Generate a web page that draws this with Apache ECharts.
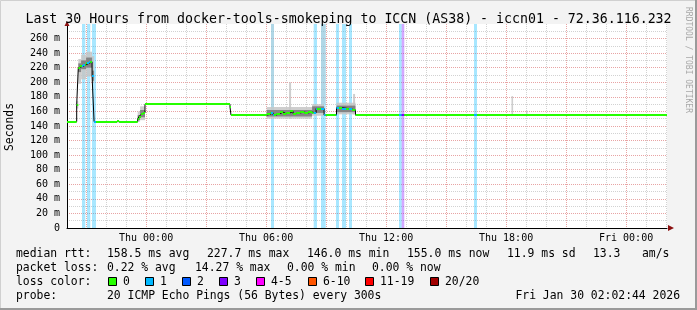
<!DOCTYPE html>
<html><head><meta charset="utf-8">
<script src="https://cdn.jsdelivr.net/npm/echarts@6/dist/echarts.min.js"></script>
<style>html,body{margin:0;padding:0;background:#f3f3f3}#c{width:697px;height:310px}</style>
</head><body><div id="c"></div>
<script>
// time in hours relative to Thu 00:00 (window: Wed 20:02:44 .. Fri 02:02:44)
const START = -3.9544, END = 26.0456;

const xMinorTicks = [-2,-1,1,2,4,5,7,8,10,11,13,14,16,17,19,20,22,23,25,26];
const xMajorTicks = [-3,0,3,6,9,12,15,18,21,24];
const xLabelTicks = [0,6,12,18,24];
const xLabelText  = ['Thu 00:00','Thu 06:00','Thu 12:00','Thu 18:00','Fri 00:00'];
const yMinorTicks = [10,30,50,70,90,110,130,150,170,190,210,230,250,270];
const yMajorTicks = [20,40,60,80,100,120,140,160,180,200,220,240,260];
const yLabelTicks = [0,20,40,60,80,100,120,140,160,180,200,220,240,260];

// median rtt (ms), step values holding until next time
const medT = [-3.955,-3.47,-3.39,-3.30,-3.15,-3.00,-2.85,-2.70,-2.60,-1.45,-1.35,-0.42,-0.35,-0.25,-0.15,-0.055,4.195,4.245,6.03,6.2,6.35,6.5,6.7,6.85,7.0,7.2,7.35,7.5,7.7,7.9,8.1,8.3,8.5,8.9,9.52,9.8,10.1,10.3,10.47,26.045];
const medV = [146,169,220,222,224,226,228,208,146,147,146,150,153,156,158,170,166,155,156,158,155,157,159,157,158,160,157,158,159,158,159,158,164,155,165,164,163,162,155,155];

// loss periods
const lossStart = [-3.205,-2.955,-2.705,6.245,8.38,8.745,9.495,9.795,10.145,12.645,12.78,16.395];
const lossEnd   = [-3.04,-2.79,-2.505,6.395,8.545,8.98,9.645,9.995,10.295,12.78,12.91,16.545];
const lossLevel = [1,1,1,1,1,1,1,1,1,1,3,1];

// smoke (ping distribution); shade 0 light, 1 dark, 2 faint (pings beyond the top)
const smokeStart = [-3.47,-3.39,-3.25,-3.0,-2.7,-0.42,-0.3,6.03,7.15,6.245,8.3,8.745,9.52,10.35,18.27,19.0, -3.39,-3.25,-3.0,-2.7,-0.42,-0.3,6.03,8.3,9.52];
const smokeEnd   = [-3.39,-3.25,-3.0,-2.7,-2.6,-0.3,-0.055,8.3,7.25,6.395,8.9,8.98,10.47,10.45,18.35,19.07, -3.25,-3.0,-2.7,-2.6,-0.3,-0.055,8.3,8.9,10.47];
const smokeLo    = [164,198,204,208,200,146,148,150,150,166,154,170,156,156,155,155, 214,218,220,202,148,152,153,158,159];
const smokeHi    = [174,232,238,242,236,160,167,166,200,280,170,280,172,184,181,161, 226,230,234,216,155,162,162,167,168];
const smokeShade = [0,0,0,0,0,0,0,0,0,2,0,2,0,0,0,0, 1,1,1,1,1,1,1,1,1];

const lossColors  = {0:'#26ff00',1:'#00b8ff',2:'#0059ff',3:'#7e00ff'};
const stripeColors = {1:'rgba(0,184,255,0.34)',2:'rgba(0,89,255,0.34)',3:'rgba(126,0,255,0.34)'};
const shadeColors = ['#c6c6c6','#7c7c7c','rgba(190,190,190,0.45)'];

const legendLabels = ['0','1','2','3','4-5','6-10','11-19','20/20'];
const legendColors = ['#26ff00','#00b8ff','#0059ff','#7e00ff','#ff00ff','#ff5500','#ff0000','#a10000'];

// colored median segments split by loss periods
function levelAt(t){ for(let i=0;i<lossStart.length;i++){ if(t>=lossStart[i]&&t<lossEnd[i]) return lossLevel[i]; } return 0; }
const segs = [];
for(let i=0;i<medT.length-1;i++){
  const a=medT[i], b=medT[i+1], v=medV[i];
  const cuts=[a,b];
  lossStart.concat(lossEnd).forEach(c=>{ if(c>a&&c<b) cuts.push(c); });
  cuts.sort((p,q)=>p-q);
  for(let k=0;k<cuts.length-1;k++){ segs.push([cuts[k],cuts[k+1],v,levelAt((cuts[k]+cuts[k+1])/2)]); }
}

const MONO = '"DejaVu Sans Mono", monospace';
const chart = echarts.init(document.getElementById('c'), null, {renderer:'canvas'});

function txt(x,y,s,align,font){ return {type:'text', x:x, y:y, z:100, style:{text:s, font:font||('11.4px '+MONO), fill:'#000', align:align||'left', verticalAlign:'middle'}}; }
const graphics = [];
graphics.push({type:'rect', shape:{x:0.5,y:0.5,width:695,height:308}, style:{fill:null, stroke:'#d0d0d0', lineWidth:1}, z:0, silent:true});
graphics.push({type:'polyline', shape:{points:[[696,0],[696,309],[0,309]]}, style:{stroke:'#9a9a9a', lineWidth:2}, z:0});
graphics.push(txt(348.5,19.5,'Last 30 Hours from docker-tools-smokeping to ICCN (AS38) - iccn01 - 72.36.116.232','center','13.25px '+MONO));
graphics.push({type:'text', x:10, y:127, rotation:Math.PI/2, z:100, style:{text:'Seconds', font:'11.4px '+MONO, fill:'#000', align:'center', verticalAlign:'middle'}});
graphics.push({type:'text', x:688, y:60, rotation:-Math.PI/2, z:100, style:{text:'RRDTOOL / TOBI OETIKER', font:'8px '+MONO, fill:'#a8a8a8', align:'center', verticalAlign:'middle'}});
// axis arrows
graphics.push({type:'polygon', shape:{points:[[668,225],[668,231],[674,228]]}, style:{fill:'#8b1010'}, z:50});
graphics.push({type:'polygon', shape:{points:[[64.5,26],[69.5,26],[67,21]]}, style:{fill:'#8b1010'}, z:50});
// legend rows
const r1=254, r2=268, r3=282, r4=296;
graphics.push(txt(16,r1,'median rtt:'));
graphics.push(txt(107,r1,'158.5 ms avg'));
graphics.push(txt(207,r1,'227.7 ms max'));
graphics.push(txt(307,r1,'146.0 ms min'));
graphics.push(txt(407,r1,'155.0 ms now'));
graphics.push(txt(507,r1,'11.9 ms sd'));
graphics.push(txt(593,r1,'13.3'));
graphics.push(txt(642,r1,'am/s'));
graphics.push(txt(16,r2,'packet loss:'));
graphics.push(txt(107,r2,'0.22 % avg'));
graphics.push(txt(195,r2,'14.27 % max'));
graphics.push(txt(287,r2,'0.00 % min'));
graphics.push(txt(372,r2,'0.00 % now'));
graphics.push(txt(16,r3,'loss color:'));
const boxX = [108,145,182,219,256,308,365,430];
legendLabels.forEach((l,i)=>{
  graphics.push({type:'rect', shape:{x:boxX[i]+0.5,y:r3-4.5,width:8,height:8}, style:{fill:legendColors[i], stroke:'#000', lineWidth:1}, z:100});
  graphics.push(txt(boxX[i]+15,r3,l));
});
graphics.push(txt(16,r4,'probe:'));
graphics.push(txt(107,r4,'20 ICMP Echo Pings (56 Bytes) every 300s'));
graphics.push(txt(680,r4,'Fri Jan 30 02:02:44 2026','right'));

const gridMinor = {color:'#d2d2d2', type:[1,1], width:1};
const gridMajor = {color:'#e8a4a4', type:[1,1], width:1};

chart.setOption({
  animation:false,
  backgroundColor:'#f3f3f3',
  grid:{left:67, right:30, top:24, bottom:82, show:true, backgroundColor:'#ffffff', borderWidth:0},
  xAxis:[
    {type:'value', min:START, max:END, position:'bottom',
     axisLine:{show:true, onZero:false, lineStyle:{color:'#000', width:1}},
     axisTick:{show:false, customValues:xMinorTicks},
     splitLine:{show:true, lineStyle:gridMinor},
     axisLabel:{show:true, customValues:xLabelTicks, margin:5, color:'#000', fontFamily:MONO, fontSize:10,
       formatter:v=>{ const i=xLabelTicks.findIndex(t=>Math.abs(t-v)<1e-6); return i>=0?xLabelText[i]:''; }}},
    {type:'value', min:START, max:END, position:'bottom',
     axisLine:{show:false, onZero:false}, axisTick:{show:false, customValues:xMajorTicks},
     splitLine:{show:true, lineStyle:gridMajor}, axisLabel:{show:false}}
  ],
  yAxis:[
    {type:'value', min:0, max:280, position:'left',
     axisLine:{show:true, onZero:false, lineStyle:{color:'#000', width:1}},
     axisTick:{show:false, customValues:yMinorTicks},
     splitLine:{show:true, lineStyle:gridMinor},
     axisLabel:{show:true, customValues:yLabelTicks, margin:7, color:'#000', fontFamily:MONO, fontSize:10,
       formatter:v=> v===0 ? '0' : v+' m'}},
    {type:'value', min:0, max:280, position:'left',
     axisLine:{show:false, onZero:false}, axisTick:{show:false, customValues:yMajorTicks},
     splitLine:{show:true, lineStyle:gridMajor}, axisLabel:{show:false}}
  ],
  series:[
    {type:'custom', name:'loss', coordinateSystem:'cartesian2d', z:1, clip:true,
     data: lossStart.map((s,i)=>[s, lossEnd[i], lossLevel[i]]),
     encode:{x:[0,1], y:2},
     renderItem:(params, api)=>{
       const p0=api.coord([api.value(0),280]), p1=api.coord([api.value(1),0]);
       return {type:'rect', shape:{x:p0[0], y:p0[1], width:p1[0]-p0[0], height:p1[1]-p0[1]}, style:{fill:stripeColors[api.value(2)]}};
     }},
    {type:'custom', name:'smoke', coordinateSystem:'cartesian2d', z:2, clip:true,
     data: smokeStart.map((s,i)=>[s, smokeEnd[i], smokeLo[i], smokeHi[i], smokeShade[i]]),
     encode:{x:[0,1], y:[2,3]},
     renderItem:(params, api)=>{
       const p0=api.coord([api.value(0),api.value(3)]), p1=api.coord([api.value(1),api.value(2)]);
       return {type:'rect', shape:{x:p0[0], y:p0[1], width:p1[0]-p0[0], height:p1[1]-p0[1]}, style:{fill:shadeColors[api.value(4)], opacity:api.value(4)===1?0.9:0.85}};
     }},
    {type:'line', name:'median', step:'end', z:3, showSymbol:false, symbol:'none',
     data: medT.map((t,i)=>[t, medV[i]]),
     lineStyle:{color:'#000', width:1}},
    {type:'custom', name:'median color', coordinateSystem:'cartesian2d', z:4, clip:true,
     data: segs, encode:{x:[0,1], y:2},
     renderItem:(params, api)=>{
       const p0=api.coord([api.value(0),api.value(2)]), p1=api.coord([api.value(1),api.value(2)]);
       return {type:'rect', shape:{x:p0[0], y:Math.round(p0[1])-1, width:p1[0]-p0[0], height:2}, style:{fill:lossColors[api.value(3)]}};
     }}
  ],
  graphic: graphics
});
</script></body></html>
